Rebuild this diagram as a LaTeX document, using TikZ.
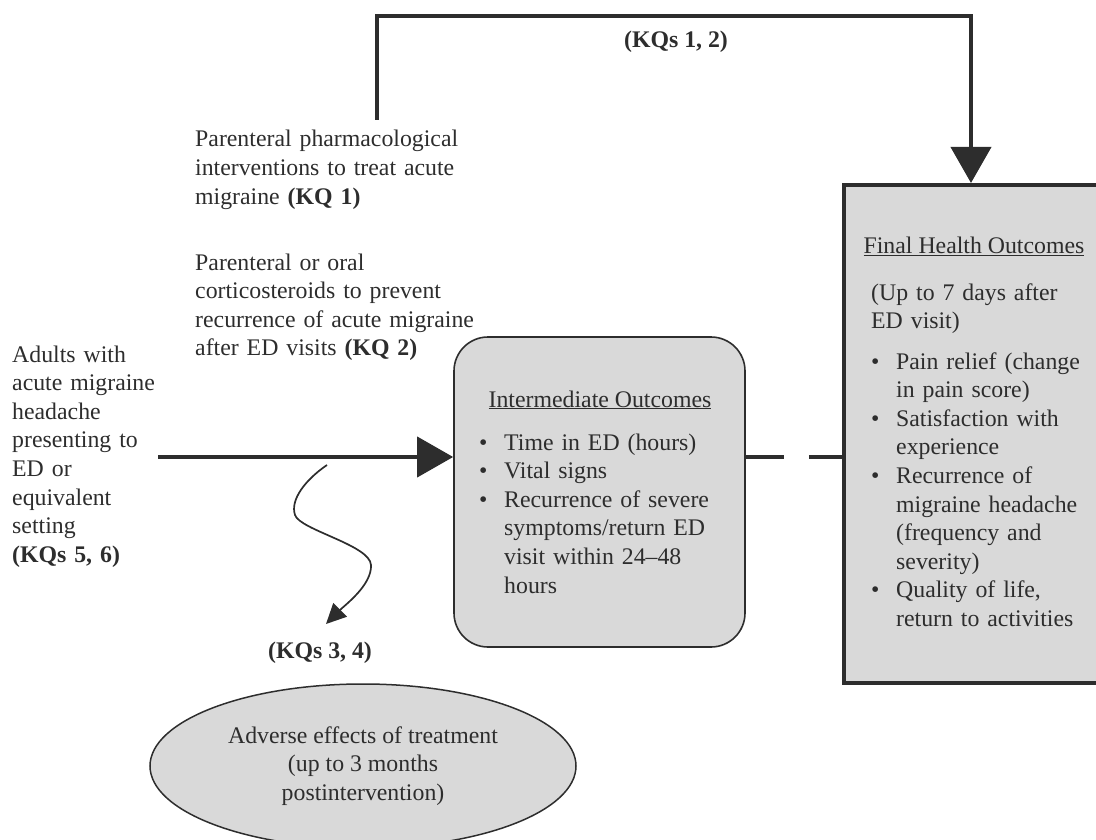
\documentclass[tikz,border=0pt]{standalone}
\usepackage{fontspec}
\setmainfont{Liberation Serif}
\usetikzlibrary{arrows.meta,shapes.geometric}
\definecolor{inkgray}{RGB}{45,45,45}
\definecolor{boxgray}{RGB}{217,217,217}
\newcommand{\bul}{\makebox[25pt][l]{\textbullet}}
\newcommand{\cont}{\hspace*{25pt}}

\begin{document}
\begin{tikzpicture}[x=1pt,y=-1pt,
        every node/.style={font=\fontsize{23.8}{28.6}\selectfont, text=inkgray, inner sep=0pt},
        txt/.style={align=left, anchor=base west, text width=#1},
        txt/.default=280pt,
        interbox/.style={draw=inkgray, line width=1.6pt, fill=boxgray, rounded corners=34pt, minimum width=291pt, minimum height=310pt},
        finalbox/.style={draw=inkgray, line width=4pt, fill=boxgray, minimum width=254pt, minimum height=498pt},
        harmbox/.style={ellipse, draw=inkgray, line width=1.5pt, fill=boxgray, align=center, minimum width=426pt, minimum height=164pt},
        bigarrow/.style={draw=inkgray, line width=4pt, -{Triangle[length=36pt,width=40pt]}},
        dashline/.style={draw=inkgray, line width=4pt, dash pattern=on 38pt off 25pt},
        wavyarrow/.style={draw=inkgray, line width=1.7pt, -{Triangle[length=20pt,width=19pt]}}]
        \useasboundingbox (0,0) rectangle (1096,840);

        \node [txt=150pt] (adults) at (12,362) {Adults with\\acute migraine\\headache\\presenting to\\ED or\\equivalent\\setting\\\textbf{(KQs 5, 6)}};
        \node [txt] (drugA) at (195,147) {Parenteral pharmacological\\interventions to treat acute\\migraine \textbf{(KQ 1)}};
        \node [txt] (drugB) at (195,270) {Parenteral or oral\\corticosteroids to prevent\\recurrence of acute migraine\\after ED visits \textbf{(KQ 2)}};

        \node [interbox] (inter) at (599.5,492) {};
        \node [anchor=base] (interhead) at (600,407) {\underline{Intermediate Outcomes}};
        \node [txt=260pt] (interlist) at (479,450) {\bul Time in ED (hours)\\\bul Vital signs\\\bul Recurrence of severe\\\cont symptoms/return ED\\\cont visit within 24--48\\\cont hours};

        \node [finalbox] (final) at (971,434) {};
        \node [anchor=base] (finalhead) at (974,254) {\underline{Final Health Outcomes}};
        \node [txt=230pt] (finalwhen) at (871,300) {(Up to 7 days after\\ED visit)};
        \node [txt=230pt] (finallist) at (871,369) {\bul Pain relief (change\\\cont in pain score)\\\bul Satisfaction with\\\cont experience\\\bul Recurrence of\\\cont migraine headache\\\cont (frequency and\\\cont severity)\\\bul Quality of life,\\\cont return to activities};

        \node [harmbox] (harms) at (363,766) {Adverse effects of treatment\\(up to 3 months\\postintervention)};

        \node (kqtop) at (676,42) {\textbf{(KQs 1, 2)}};
        \node (kqharm) at (320,653) {\textbf{(KQs 3, 4)}};

        \coordinate (mainfrom) at (158,457);
        \coordinate (kqstart) at (377,120);
        \coordinate (kqcorner) at (377,16);
        \coordinate (harmfrom) at (327,465);
        \coordinate (harmto) at (326,624);

        \draw [bigarrow] (mainfrom) -- (inter.west |- mainfrom);
        \draw [dashline] (inter.east |- mainfrom) -- (final.west |- mainfrom);
        \draw [bigarrow] (kqstart) -- (kqcorner) -| (final.north);
        \draw [wavyarrow] (harmfrom) .. controls (305,480) and (290,500) .. (295,515) .. controls (300,530) and (370,545) .. (371,565) .. controls (372,585) and (345,605) .. (harmto);
    \end{tikzpicture}
\end{document}
